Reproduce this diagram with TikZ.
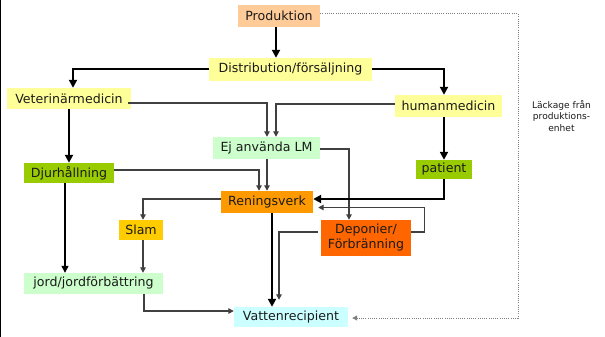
\documentclass[tikz,border=0pt]{standalone}
\usepackage{fontspec}
\setmainfont{DejaVu Sans}
\usetikzlibrary{arrows.meta,calc}
\definecolor{cprod}{HTML}{FFCC99}
\definecolor{cyel}{HTML}{FFFF99}
\definecolor{cmint}{HTML}{CCFFCC}
\definecolor{cgreen}{HTML}{99CC00}
\definecolor{cren}{HTML}{FF9900}
\definecolor{cslam}{HTML}{FFCC00}
\definecolor{cdep}{HTML}{FF6600}
\definecolor{cvat}{HTML}{CCFFFF}
\definecolor{cthin}{HTML}{404040}
\definecolor{ctext}{HTML}{1A1A1A}
\tikzset{
  box/.style={inner sep=0pt, text=ctext, align=center,
    font=\fontsize{12.6}{15}\selectfont},
  thk/.style={line width=2pt, black, -{Triangle[width=8pt,length=8pt]}},
  thn/.style={line width=1.3pt, cthin, -{Triangle[width=5.5pt,length=5.5pt]}},
  thnb/.style={line width=1.3pt, black, -{Triangle[width=7pt,length=7pt]}},
  leak/.style={line width=1pt, gray, dash pattern=on 1pt off 1.2pt, -{Triangle[width=5pt,length=5pt]}},
}
\begin{document}
\begin{tikzpicture}[x=1pt,y=-1pt]
\useasboundingbox (0,0) rectangle (605,337);
\draw[line width=1.3pt] (0.8,0) -- (0.8,337);
% nodes
\node[box, fill=cprod, minimum width=82, minimum height=22] (prod) at (279,16) {Produktion};
\node[box, fill=cyel, minimum width=163, minimum height=23] (dist) at (290.5,69.5) {Distribution/försäljning};
\node[box, fill=cyel, minimum width=124, minimum height=21] (vet) at (69,98.5) {Veterinärmedicin};
\node[box, fill=cyel, minimum width=107, minimum height=22] (hum) at (448.5,106) {humanmedicin};
\node[box, fill=cmint, minimum width=107, minimum height=22] (ej) at (266.5,148) {Ej använda LM};
\node[box, fill=cgreen, minimum width=90, minimum height=20] (dj) at (69,173) {Djurhållning};
\node[box, fill=cgreen, minimum width=56, minimum height=19] (pat) at (444,169.5) {patient};
\node[box, fill=cren, minimum width=92, minimum height=22] (ren) at (267,202) {Reningsverk};
\node[box, fill=cslam, minimum width=44, minimum height=20] (slam) at (141,230) {Slam};
\node[box, fill=cdep, minimum width=90, minimum height=36] (dep) at (366,238) {Deponier/\\Förbränning};
\node[box, fill=cmint, minimum width=139, minimum height=21] (jord) at (93.5,283.5) {jord/jordförbättring};
\node[box, fill=cvat, minimum width=114, minimum height=20] (vat) at (291,317) {Vattenrecipient};
\node[text=ctext, align=center, inner sep=0pt, font=\fontsize{9.1}{11.5}\selectfont] (lbl) at (561.5,116) {Läckage från\\produktions-\\enhet};
% helper coordinates
\coordinate (lk) at (518,14);
\coordinate (p1) at ($(prod.south)+(-3,0)$);
\coordinate (h1) at ($(hum.south)+(-4.5,0)$);
\coordinate (e1) at ($(ej.south)+(0.5,0)$);
\coordinate (d1) at ($(dj.south)+(-4,0)$);
\coordinate (s1) at ($(slam.south)+(2,0)$);
\coordinate (r1) at ($(ren.south)+(5,0)$);
% connectors
\draw[thk] (p1) -- (p1 |- dist.north);
\draw[thk] (dist.west) -| ($(vet.north)+(4,0)$);
\draw[thk] (dist.east) -| ($(hum.north)+(-4.5,0)$);
\draw[thn] ($(vet.east)+(-3,4.5)$) -| ($(ej.north)+(0.5,0)$);
\draw[thn] ($(hum.west)+(0,-2)$) -| ($(ej.north)+(9.5,0)$);
\draw[thk] (vet.south) -- (vet.south |- dj.north);
\draw[thk] (h1) -- (h1 |- pat.north);
\draw[thn] (e1) -- (e1 |- ren.north);
\draw[thn] ($(dj.east)+(0,-3)$) -| ($(ren.north)+(-8,0)$);
\draw[thn] ($(ej.east)+(0,1)$) -| ($(dep.north)+(-17,0)$);
\draw[thk] (pat.south) |- ($(ren.east)+(0,-3)$);
\draw[thn] ($(dep.east)+(0,-6)$) -- ++(13,0) |- ($(ren.east)+(5,5.5)$);
\draw[thn] ($(ren.west)+(0,-3)$) -| ($(slam.north)+(2,0)$);
\draw[thnb] (d1) -- (d1 |- jord.north);
\draw[thn] (s1) -- (s1 |- jord.north);
\draw[thn] ($(jord.south)+(50.5,0)$) |- ($(vat.west)+(0,-6)$);
\draw[thk] (r1) -- (r1 |- vat.north);
\draw[thn] ($(dep.west)+(-3,-6)$) -| ($(vat.north)+(-12,-7)$);
\draw[leak] ($(prod.east)+(0,-2)$) -- (lk) |- ($(vat.east)+(4,1)$);
\end{tikzpicture}
\end{document}
